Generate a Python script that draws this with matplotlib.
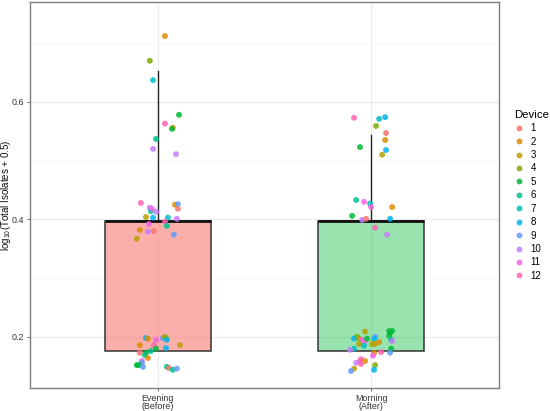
import matplotlib
matplotlib.use("Agg")
import matplotlib.pyplot as plt
from matplotlib.lines import Line2D
from matplotlib.colors import to_rgba
import numpy as np

plt.rcParams["font.family"] = ["Liberation Sans", "DejaVu Sans"]
plt.rcParams["mathtext.fontset"] = "custom"
plt.rcParams["mathtext.rm"] = "Liberation Sans"
plt.rcParams["mathtext.it"] = "Liberation Sans:italic"

# ---------------- data ----------------
groups = ["Evening\n(Before)", "Morning\n(After)"]
devices = [str(i) for i in range(1, 13)]
device_colors = ["#F8766D", "#DE8C00", "#B79F00", "#7CAE00", "#00BA38", "#00C08B",
                 "#00BFC4", "#00B4F0", "#619CFF", "#C77CFF", "#F564E3", "#FF64B0"]

# box statistics (log10 scale values)
box_q1 = [0.176, 0.176]
box_med = [0.398, 0.398]
box_q3 = [0.398, 0.398]
box_whislo = [0.176, 0.176]
box_whishi = [0.653, 0.544]
box_fill = ["#F8766D", "#00BA38"]
box_alpha = [0.58, 0.40]

# Evening points: jitter offset, value, device
eve_off = [0.033, -0.038, -0.023, 0.099, 0.033, 0.070, 0.066, -0.009, -0.023, 0.085,
           -0.080, 0.080, 0.094, 0.094, -0.038, -0.033, -0.028, -0.009, -0.056, -0.023,
           0.047, 0.089, 0.033, -0.042, 0.042, -0.085, -0.047, -0.019, 0.075, -0.099,
           -0.056, -0.047, -0.009, 0.023, 0.033, 0.038, 0.042, -0.085, -0.019, 0.103,
           0.038, -0.009, -0.033, -0.085, -0.056, -0.061, -0.047, -0.075, -0.075, -0.089,
           -0.099, -0.070, 0.042, 0.052, 0.070, 0.089]
eve_val = [0.712, 0.670, 0.637, 0.578, 0.563, 0.556, 0.554, 0.537, 0.520, 0.511,
           0.428, 0.425, 0.426, 0.418, 0.420, 0.414, 0.418, 0.413, 0.404, 0.403,
           0.403, 0.401, 0.396, 0.392, 0.389, 0.382, 0.379, 0.380, 0.374, 0.367,
           0.198, 0.197, 0.195, 0.198, 0.200, 0.198, 0.195, 0.186, 0.186, 0.186,
           0.181, 0.180, 0.176, 0.173, 0.173, 0.169, 0.164, 0.159, 0.156, 0.152,
           0.152, 0.149, 0.149, 0.147, 0.144, 0.146]
eve_dev = [2, 4, 7, 5, 12, 2, 5, 6, 10, 10,
           12, 2, 9, 1, 10, 6, 11, 10, 3, 8,
           7, 10, 12, 11, 6, 2, 10, 1, 9, 3,
           8, 2, 11, 9, 3, 4, 8, 2, 12, 3,
           8, 5, 6, 1, 5, 6, 2, 11, 9, 5,
           5, 9, 6, 1, 6, 9]

# Morning points
mor_off = [-0.080, 0.038, 0.066, 0.023, 0.070, 0.066, -0.052, 0.070, 0.052, -0.070,
           -0.033, -0.005, 0.000, 0.099, -0.089, -0.042, -0.023, 0.089, 0.019, 0.075,
           -0.028, -0.066, -0.080, -0.056, -0.042, -0.028, -0.019, -0.056, -0.033, 0.019,
           0.014, 0.005, 0.019, 0.038, 0.085, 0.099, 0.089, 0.085, 0.094, 0.099,
           -0.080, -0.099, 0.094, 0.089, 0.014, 0.009, 0.047, -0.047, -0.052, -0.028,
           -0.070, -0.047, 0.019, -0.080, -0.094, 0.014]
mor_val = [0.573, 0.571, 0.574, 0.559, 0.547, 0.535, 0.523, 0.518, 0.510, 0.433,
           0.430, 0.427, 0.421, 0.421, 0.406, 0.399, 0.401, 0.401, 0.386, 0.374,
           0.209, 0.200, 0.197, 0.197, 0.195, 0.193, 0.197, 0.188, 0.185, 0.200,
           0.197, 0.188, 0.188, 0.191, 0.210, 0.210, 0.207, 0.202, 0.195, 0.193,
           0.180, 0.178, 0.180, 0.173, 0.173, 0.168, 0.174, 0.162, 0.159, 0.159,
           0.156, 0.154, 0.152, 0.146, 0.142, 0.144]
mor_dev = [12, 7, 8, 4, 1, 2, 5, 8, 3, 6,
           11, 7, 11, 2, 5, 10, 1, 8, 12, 10,
           3, 4, 8, 3, 11, 11, 5, 3, 7, 9,
           8, 3, 3, 2, 5, 5, 5, 5, 6, 10,
           7, 10, 5, 9, 2, 11, 12, 12, 12, 2,
           10, 12, 4, 3, 9, 8]

yticks = [0.2, 0.4, 0.6]
yminor = [0.3, 0.5, 0.7]

# ---------------- plot ----------------
fig = plt.figure(figsize=(5.5, 4.11), dpi=100)
ax = fig.add_axes([30 / 550, 1 - 388 / 411, (499 - 30) / 550, (388 - 2) / 411])

positions = [1, 2]
stats = []
for i in range(2):
    stats.append(dict(med=box_med[i], q1=box_q1[i], q3=box_q3[i],
                      whislo=box_whislo[i], whishi=box_whishi[i], fliers=[]))
bp = ax.bxp(stats, positions=positions, widths=0.5, patch_artist=True,
            showfliers=False, showcaps=False,
            boxprops=dict(edgecolor="#333333", linewidth=1.1),
            whiskerprops=dict(color="#222222", linewidth=1.0),
            medianprops=dict(color="#111111", linewidth=2.0))
for i, patch in enumerate(bp["boxes"]):
    patch.set_facecolor(to_rgba(box_fill[i], box_alpha[i]))
    patch.set_zorder(2)
for w in bp["whiskers"]:
    w.set_zorder(2)
for m in bp["medians"]:
    m.set_zorder(3)

for pos, offs, vals, devs in [(1, eve_off, eve_val, eve_dev), (2, mor_off, mor_val, mor_dev)]:
    xs = pos + np.array(offs)
    cols = [device_colors[d - 1] for d in devs]
    ax.scatter(xs, vals, s=18, c=cols, alpha=0.85, linewidths=0, zorder=4)

ax.set_xlim(0.4, 2.6)
ax.set_ylim(0.113, 0.77)
ax.set_yticks(yticks)
ax.set_yticks(yminor, minor=True)
ax.set_yticklabels([f"{t:.1f}" for t in yticks])
ax.set_xticks(positions)
ax.set_xticklabels(groups, linespacing=0.95)
ax.tick_params(axis="both", which="major", labelsize=6.4, colors="#4D4D4D",
               length=2.5, width=0.6, labelcolor="#333333", pad=1.5)
ax.tick_params(axis="y", which="minor", length=0)
ax.grid(True, which="major", color="#EBEBEB", linewidth=0.8, zorder=0)
ax.grid(True, which="minor", axis="y", color="#F4F4F4", linewidth=0.5, zorder=0)
ax.set_axisbelow(True)
for s in ax.spines.values():
    s.set_color("#7F7F7F")
    s.set_linewidth(1.0)

fig.text(6 / 550, 1 - 195 / 411, r"log$_{10}$(Total Isolates + 0.5)", fontsize=7.0,
         color="#111111", rotation=90, ha="center", va="center")

handles = [Line2D([0], [0], marker="o", linestyle="", markersize=4.2,
                  markerfacecolor=c, markeredgewidth=0, alpha=0.85) for c in device_colors]
leg = fig.legend(handles, devices, title="Device", loc="upper left",
                 bbox_to_anchor=(510 / 550, 1 - 106 / 411), frameon=False,
                 fontsize=7, title_fontsize=8.2, labelspacing=0.35,
                 handletextpad=0.6, handlelength=1.1, borderaxespad=0)
leg._legend_box.align = "left"

fig.savefig("out.png", dpi=100)
